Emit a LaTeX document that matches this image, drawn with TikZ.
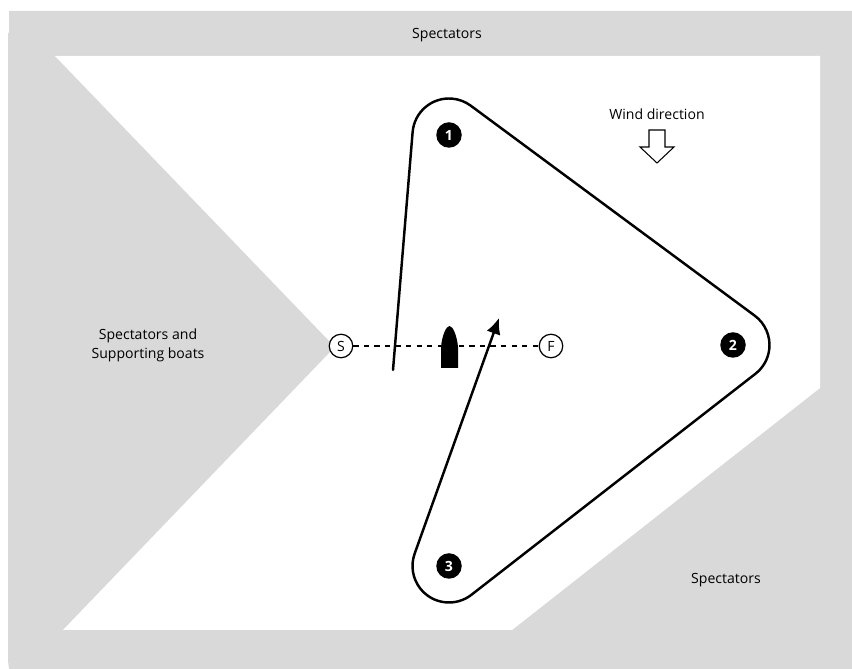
\documentclass[tikz,border=0pt]{standalone}
\usepackage{fontspec}
\setmainfont{Open Sans}
\usetikzlibrary{arrows.meta}
\definecolor{ColArea}{RGB}{217,217,217}
\tikzstyle{MarkCourse}=[circle,fill=black,text=white,inner sep=0pt,minimum size=5.1mm,font=\footnotesize\bfseries]
\tikzstyle{MarkLine}=[circle,draw=black,fill=white,inner sep=0pt,line width=0.7pt,minimum size=4.7mm,font=\footnotesize]
\tikzstyle{EdgeCourse}=[black,line width=1.4pt,line cap=round,line join=round]
\tikzstyle{LabelArea}=[align=center,font=\footnotesize]
\begin{document}
\begin{tikzpicture}[x=0.2mm,y=0.2mm]
        \useasboundingbox(0,0)rectangle(852,669);
        % spectator areas
        \fill[ColArea](9,658)--(852,658)--(852,0)--(9,0)--(8,8)--(8,636)--(9,636)--cycle;
        \fill[white](55,613)--(820,613)--(820,281)--(512,39)--(63,39)--(335,322)--cycle;
        \node[LabelArea](top)at(447,634){Spectators};
        \node[LabelArea,text depth=0pt](left)at(148,325){Spectators and\\[1.5pt]Supporting boats};
        \node[LabelArea](right)at(726,89){Spectators};
        % wind
        \node[LabelArea](wind)at(657,555){Wind direction};
        \draw[black,line width=0.6pt,line join=miter](649,539)--(665,539)--(665,522)--(674,522)
            --(657,506)--(640,522)--(649,522)--cycle;
        % marks
        \node[MarkCourse](a)at(449,534){1};
        \node[MarkCourse](b)at(733,324){2};
        \node[MarkCourse](c)at(449,103){3};
        \node[MarkLine](s)at(341,323){S};
        \node[MarkLine](f)at(551,323){F};
        \draw[black,dashed,line width=0.65pt](s)--(f);
        % boat
        \fill[black](441,301)--(458,301)--(458,322).. controls (457,333) and (453,343) .. (449.5,343)
            .. controls (446,343) and (442,333) .. (441,322)--cycle;
        % course
        \coordinate(start)at(393,299);
        \coordinate(tip)at(499,351);
        \draw[EdgeCourse,-{Latex[length=3.2mm,width=2.9mm]}](start)--([shift={(175.2:36.5)}]a.center)
            arc[start angle=175.2,end angle=53.5,radius=7.3mm]
            --([shift={(53.5:36.5)}]b.center)
            arc[start angle=53.5,end angle=-52.1,radius=7.3mm]
            --([shift={(-52.1:36.5)}]c.center)
            arc[start angle=-52.1,end angle=-199.7,radius=7.3mm]
            --(tip);
    \end{tikzpicture}
\end{document}
